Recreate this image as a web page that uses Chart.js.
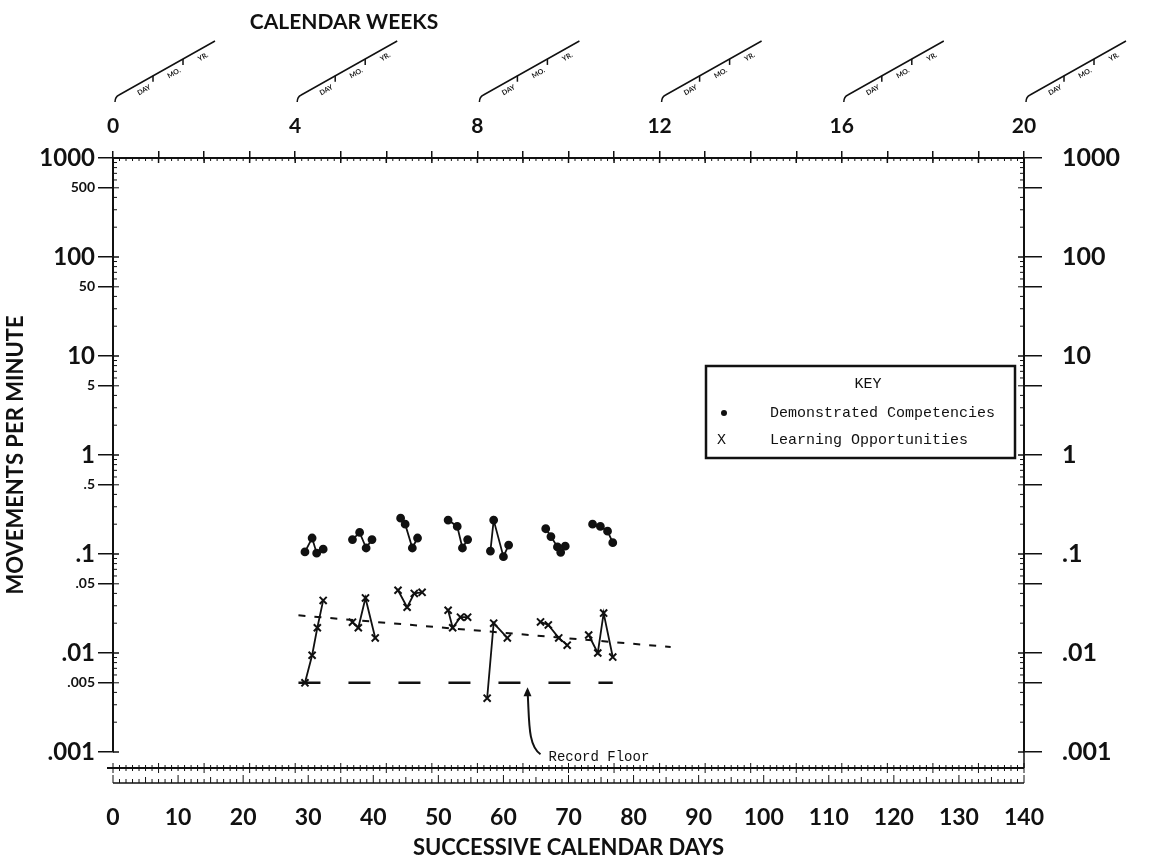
<!DOCTYPE html>
<html>
<head>
<meta charset="utf-8">
<script src="https://cdn.jsdelivr.net/npm/chart.js@4.4.1/dist/chart.umd.min.js"></script>
<style>
  html, body { margin: 0; padding: 0; background: #fff; }
</style>
</head>
<body>
<canvas id="chart" width="1155" height="862"></canvas>
<script>
// Demonstrated Competencies (dots)
const dcDays = [29.5, 30.6, 31.3, 32.3, 36.8, 37.9, 38.9, 39.8, 44.2, 44.9, 46.0, 46.8,
  51.5, 52.9, 53.7, 54.5, 58.0, 58.5, 60.0, 60.8, 66.5, 67.3, 68.3, 68.8, 69.5, 73.7, 74.9, 76.0, 76.8];
const dcRates = [0.105, 0.145, 0.102, 0.112, 0.14, 0.165, 0.115, 0.14, 0.23, 0.2, 0.115, 0.145,
  0.22, 0.19, 0.115, 0.14, 0.107, 0.22, 0.094, 0.123, 0.18, 0.15, 0.118, 0.104, 0.12, 0.2, 0.19, 0.17, 0.13];

// Learning Opportunities (X)
const loDays = [29.5, 30.6, 31.4, 32.3, 36.8, 37.7, 38.8, 40.3, 43.8, 45.2, 46.3, 47.5,
  51.5, 52.2, 53.4, 54.5, 57.5, 58.5, 60.6, 65.7, 66.9, 68.5, 69.8, 73.1, 74.5, 75.4, 76.8];
const loRates = [0.005, 0.0095, 0.018, 0.034, 0.0205, 0.018, 0.036, 0.0142, 0.043, 0.029, 0.04, 0.041,
  0.027, 0.018, 0.023, 0.023, 0.0035, 0.02, 0.0142, 0.0206, 0.0192, 0.0142, 0.012, 0.0152, 0.01, 0.0253, 0.0091];

// trend line and record floor
const trendDays = [28.5, 85.7];
const trendRates = [0.024, 0.0115];
const floorDays = [28.5, 76.8];
const floorRates = [0.005, 0.005];

// axis ticks
const rateTicks = [1000, 500, 100, 50, 10, 5, 1, 0.5, 0.1, 0.05, 0.01, 0.005, 0.001];
const weekLabels = [0, 4, 8, 12, 16, 20];
const fanLabels = ['DAY', 'MO.', 'YR.'];

const INK = '#111';
const GOTHIC = 'Lato, "DejaVu Sans", sans-serif';
const TYPE = '"Liberation Mono", "DejaVu Sans Mono", monospace';

// split a series into weekly runs (null breaks the line)
function toPoints(days, rates) {
  const pts = [];
  days.forEach((d, i) => {
    if (i > 0 && d - days[i - 1] > 2.5) pts.push({ x: (d + days[i - 1]) / 2, y: null });
    pts.push({ x: d, y: rates[i] });
  });
  return pts;
}

function isDecade(v) {
  return Math.abs(Math.log10(v) - Math.round(Math.log10(v))) < 1e-6;
}

function fmtRate(v) {
  return v >= 1 ? String(v) : String(v).replace(/^0/, '');
}

function line(ctx, x1, y1, x2, y2) {
  ctx.beginPath();
  ctx.moveTo(x1, y1);
  ctx.lineTo(x2, y2);
  ctx.stroke();
}

const rulerPlugin = {
  id: 'celerationRuler',
  afterDraw(chart) {
    const { ctx, chartArea: a } = chart;
    const { x, y, xTop } = chart.scales;
    ctx.save();
    ctx.strokeStyle = INK;
    ctx.fillStyle = INK;

    // minor ticks inside the left and right axes
    ctx.lineWidth = 1;
    for (let e = -3; e < 3; e++) {
      for (let m = 2; m <= 9; m++) {
        const py = y.getPixelForValue(m * Math.pow(10, e));
        const len = m === 5 ? 6 : 4;
        line(ctx, a.left, py, a.left + len, py);
        line(ctx, a.right - len, py, a.right, py);
      }
    }
    ctx.lineWidth = 1.5;
    rateTicks.filter(isDecade).forEach(v => {
      const py = y.getPixelForValue(v);
      line(ctx, a.left, py, a.left + 6, py);
      line(ctx, a.right - 6, py, a.right, py);
    });

    // top ruler: day ticks and week crossings
    ctx.lineWidth = 1;
    for (let d = 0; d <= 140; d++) {
      const px = x.getPixelForValue(d);
      line(ctx, px, a.top, px, a.top + 3);
    }
    ctx.lineWidth = 1.5;
    for (let w = 0; w <= 20; w++) {
      const px = xTop.getPixelForValue(w);
      line(ctx, px, a.top, px, a.top + 5);
    }

    // bottom day ruler (two rows)
    const r1 = a.bottom + 16;
    const r2 = a.bottom + 31;
    ctx.lineWidth = 2;
    line(ctx, a.left - 6, r1, a.right, r1);
    ctx.lineWidth = 1.5;
    line(ctx, a.left, r2, a.right, r2);
    line(ctx, a.right, a.bottom, a.right, r1);
    ctx.lineWidth = 1;
    for (let d = 0; d <= 140; d++) {
      const px = x.getPixelForValue(d);
      const h1 = d % 7 === 0 ? 5 : 3;
      line(ctx, px, r1 - h1, px, r1 + h1);
      const h2 = d % 10 === 0 ? 8 : (d % 5 === 0 ? 6 : 4);
      line(ctx, px, r2 - h2, px, r2);
    }

    // celeration fans above the week labels
    weekLabels.forEach(w => {
      const bx = xTop.getPixelForValue(w) + 2;
      const by = 97;
      const dx = 100, dy = -56;
      ctx.lineWidth = 1.5;
      ctx.beginPath();
      ctx.moveTo(bx, by + 5);
      ctx.quadraticCurveTo(bx, by, bx + 4, by - 2);
      ctx.lineTo(bx + dx, by + dy);
      ctx.stroke();
      [0.38, 0.68].forEach(t => {
        const tx = bx + dx * t, ty = by + dy * t;
        line(ctx, tx, ty, tx, ty + 6);
      });
      const ang = Math.atan2(dy, dx);
      ctx.font = 'bold 7px ' + GOTHIC;
      ctx.textAlign = 'center';
      ctx.textBaseline = 'middle';
      fanLabels.forEach((lab, i) => {
        const t = [0.25, 0.55, 0.84][i];
        const tx = bx + dx * t + 4, ty = by + dy * t + 7;
        ctx.save();
        ctx.translate(tx, ty);
        ctx.rotate(ang);
        ctx.fillText(lab, 0, 0);
        ctx.restore();
      });
    });

    // top title
    ctx.font = 'bold 21px ' + GOTHIC;
    ctx.textAlign = 'center';
    ctx.textBaseline = 'middle';
    ctx.fillText('CALENDAR WEEKS', a.left + 231, 22);

    // key box
    const kx = a.left + 593, ky = a.top + 208;
    ctx.lineWidth = 2.5;
    ctx.strokeRect(kx, ky, 309, 92);
    ctx.font = '15px ' + TYPE;
    ctx.textAlign = 'center';
    ctx.fillText('KEY', kx + 162, ky + 18);
    ctx.textAlign = 'left';
    ctx.beginPath();
    ctx.arc(kx + 18, ky + 47, 3, 0, Math.PI * 2);
    ctx.fill();
    ctx.fillText('Demonstrated Competencies', kx + 64, ky + 47);
    ctx.fillText('X', kx + 11, ky + 74);
    ctx.fillText('Learning Opportunities', kx + 64, ky + 74);

    // record floor annotation
    const hx = x.getPixelForValue(63.7);
    const hy = y.getPixelForValue(0.0042);
    ctx.lineWidth = 2;
    ctx.beginPath();
    ctx.moveTo(hx, hy);
    ctx.bezierCurveTo(hx + 2, hy + 30, hx, hy + 55, hx + 13, hy + 64);
    ctx.stroke();
    ctx.beginPath();
    ctx.moveTo(hx - 4, hy + 6);
    ctx.lineTo(hx, hy - 3);
    ctx.lineTo(hx + 4, hy + 6);
    ctx.closePath();
    ctx.fill();
    ctx.font = '14px ' + TYPE;
    ctx.textAlign = 'left';
    ctx.textBaseline = 'middle';
    ctx.fillText('Record Floor', hx + 21, hy + 67);

    ctx.restore();
  }
};

const rateAxis = (position, labelled) => ({
  type: 'logarithmic',
  position,
  min: 0.001,
  max: 1000,
  afterBuildTicks: scale => { scale.ticks = rateTicks.map(v => ({ value: v })); },
  afterFit: scale => { scale.width = position === 'left' ? 113 : 131; },
  ticks: {
    autoSkip: false,
    color: INK,
    padding: position === 'left' ? 3 : 20,
    callback: v => labelled(v) ? fmtRate(v) : '',
    font: c => ({ family: GOTHIC, weight: 'bold', size: isDecade(c.tick.value) ? (position === 'left' ? 24 : 25) : 14 })
  },
  grid: { drawOnChartArea: false, color: INK, lineWidth: 1.5, tickLength: position === 'left' ? 15 : 18 },
  border: { color: INK, width: 2 }
});

new Chart(document.getElementById('chart'), {
  type: 'line',
  data: {
    datasets: [
      {
        label: 'Demonstrated Competencies',
        data: toPoints(dcDays, dcRates),
        borderColor: INK,
        backgroundColor: INK,
        borderWidth: 1.8,
        pointStyle: 'circle',
        pointRadius: 3.5,
        spanGaps: false
      },
      {
        label: 'Learning Opportunities',
        data: toPoints(loDays, loRates),
        borderColor: INK,
        backgroundColor: INK,
        borderWidth: 1.8,
        pointStyle: 'crossRot',
        pointRadius: 5,
        pointBorderWidth: 2,
        spanGaps: false
      },
      {
        label: 'Trend',
        data: trendDays.map((d, i) => ({ x: d, y: trendRates[i] })),
        borderColor: INK,
        borderWidth: 2,
        borderDash: [7, 9],
        pointRadius: 0
      },
      {
        label: 'Record Floor',
        data: floorDays.map((d, i) => ({ x: d, y: floorRates[i] })),
        borderColor: INK,
        borderWidth: 2.5,
        borderDash: [22, 28],
        pointRadius: 0
      }
    ]
  },
  options: {
    responsive: false,
    animation: false,
    layout: { padding: 0 },
    plugins: { legend: { display: false }, tooltip: { enabled: false } },
    scales: {
      x: {
        type: 'linear',
        position: 'bottom',
        min: 0,
        max: 140,
        afterFit: scale => { scale.height = 110; },
        ticks: { stepSize: 10, color: INK, padding: 44, font: { family: GOTHIC, weight: 'bold', size: 23 } },
        grid: { display: false },
        border: { display: false },
        title: {
          display: true,
          text: 'SUCCESSIVE CALENDAR DAYS',
          color: INK,
          font: { family: GOTHIC, weight: 'bold', size: 22 },
          padding: { bottom: 1 }
        }
      },
      xTop: {
        type: 'linear',
        position: 'top',
        min: 0,
        max: 20,
        afterFit: scale => { scale.height = 158; },
        ticks: {
          stepSize: 1,
          autoSkip: false,
          maxRotation: 0,
          color: INK,
          padding: 12,
          callback: v => weekLabels.includes(v) ? String(v) : '',
          font: { family: GOTHIC, weight: 'bold', size: 21 }
        },
        grid: { drawOnChartArea: false, color: INK, lineWidth: 1.5, tickLength: 7 },
        border: { color: INK, width: 2 }
      },
      y: Object.assign(rateAxis('left', () => true), {
        title: {
          display: true,
          text: 'MOVEMENTS PER MINUTE',
          color: INK,
          font: { family: GOTHIC, weight: 'bold', size: 22 },
          padding: { top: 3 }
        }
      }),
      yRight: rateAxis('right', isDecade)
    }
  },
  plugins: [rulerPlugin]
});
</script>
</body>
</html>
